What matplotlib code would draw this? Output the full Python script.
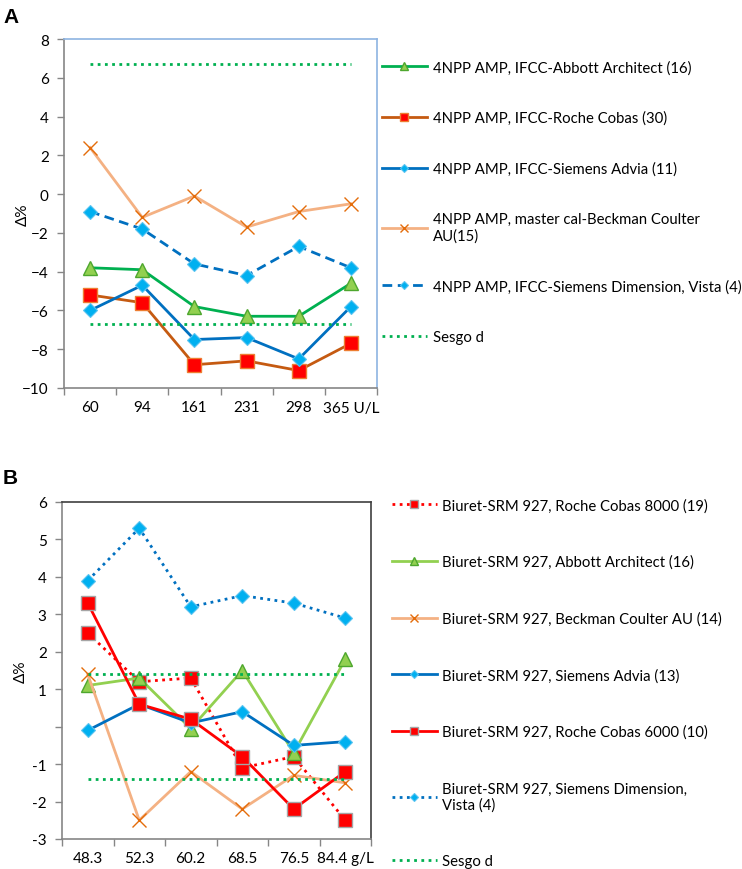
import matplotlib
matplotlib.use("Agg")
import matplotlib.pyplot as plt

plt.rcParams['font.family'] = ['Lato', 'DejaVu Sans']

# ---- panel A data (Delta %, by catalytic concentration) ----
cats_a = ["60", "94", "161", "231", "298", "365 U/L"]
abbott_a = [-3.8, -3.9, -5.8, -6.3, -6.3, -4.6]
roche_a = [-5.2, -5.6, -8.8, -8.6, -9.1, -7.7]
advia_a = [-6.0, -4.7, -7.5, -7.4, -8.5, -5.8]
beckman_a = [2.4, -1.2, -0.1, -1.7, -0.9, -0.5]
dimension_a = [-0.9, -1.8, -3.6, -4.2, -2.7, -3.8]
sesgo_a = 6.7

# ---- panel B data (Delta %, by protein concentration) ----
cats_b = ["48.3", "52.3", "60.2", "68.5", "76.5", "84.4 g/L"]
roche8000_b = [2.5, 1.2, 1.3, -1.1, -0.8, -2.5]
abbott_b = [1.1, 1.3, -0.05, 1.5, -0.7, 1.8]
beckman_b = [1.4, -2.5, -1.2, -2.2, -1.3, -1.5]
advia_b = [-0.1, 0.6, 0.1, 0.4, -0.5, -0.4]
roche6000_b = [3.3, 0.6, 0.2, -0.8, -2.2, -1.2]
dimension_b = [3.9, 5.3, 3.2, 3.5, 3.3, 2.9]
sesgo_b = 1.4

GREEN = '#00B050'
LGREEN = '#92D050'
BLUE = '#0070C0'
CYAN = '#00B0F0'
BROWN = '#C55A11'
PEACH = '#F4B183'
XORANGE = '#E46C0A'
RED = '#FF0000'
GRAY = '#868686'
DOT = (0, (1, 1.6))
FS = 10.7

fig = plt.figure(figsize=(7.42, 8.70), dpi=100)
axA = fig.add_axes([64/742, 1-389/870, 313/742, 349/870])
axB = fig.add_axes([62/742, 1-840/870, 309/742, 337/870])


def style_axes(ax, cats, frame_col):
    n = len(cats)
    x = list(range(n))
    ax.set_xlim(-0.5, n - 0.5)
    ax.set_xticks(x)
    ax.set_xticklabels(cats, fontsize=11)
    ax.set_xticks([i - 0.5 for i in range(n + 1)], minor=True)
    ax.tick_params(axis='x', which='major', length=0, pad=9)
    ax.tick_params(axis='x', which='minor', length=5, color=GRAY, width=1)
    ax.tick_params(axis='y', length=5, color=GRAY, width=1, labelsize=11, pad=6)
    for s in ['left', 'bottom']:
        ax.spines[s].set_color(GRAY)
        ax.spines[s].set_linewidth(1.2)
    for s in ['top', 'right']:
        ax.spines[s].set_color(frame_col)
        ax.spines[s].set_linewidth(1.2)
    ax.set_ylabel('Δ%', fontsize=11)
    ax.yaxis.set_label_coords(-0.11, 0.5)
    return x


# ---------------- Panel A ----------------
x = style_axes(axA, cats_a, '#8DB4E2')
axA.set_ylim(-10, 8)
axA.set_yticks(range(-10, 9, 2))

axA.plot(x, abbott_a, color=GREEN, lw=2, marker='^', ms=10, mfc=LGREEN, mec='#4EA72E', mew=1,
         label='4NPP AMP, IFCC-Abbott Architect (16)')
axA.plot(x, roche_a, color=BROWN, lw=2, marker='s', ms=9.5, mfc=RED, mec='#ED7D31', mew=1,
         label='4NPP AMP, IFCC-Roche Cobas (30)')
axA.plot(x, advia_a, color=BLUE, lw=2, marker='D', ms=7.5, mfc=CYAN, mec='#5BC4F0', mew=0.8,
         label='4NPP AMP, IFCC-Siemens Advia (11)')
axA.plot(x, beckman_a, color=PEACH, lw=2, marker='x', ms=10, mec=XORANGE, mew=1,
         label='4NPP AMP, master cal-Beckman Coulter\nAU(15)')
axA.plot(x, dimension_a, color=BLUE, lw=2, ls=(0, (3.5, 2)), marker='D', ms=7.5, mfc=CYAN,
         mec='#5BC4F0', mew=0.8, label='4NPP AMP, IFCC-Siemens Dimension, Vista (4)')
axA.plot([x[0], x[-1]], [sesgo_a, sesgo_a], color=GREEN, lw=2, ls=DOT, label='Sesgo d')
axA.plot([x[0], x[-1]], [-sesgo_a, -sesgo_a], color=GREEN, lw=2, ls=DOT)

hA, lA = axA.get_legend_handles_labels()
fig.legend(hA, lA, loc='upper left', bbox_to_anchor=(382/742, 1-61/870), frameon=False,
           fontsize=FS, handlelength=3.0, handletextpad=0.4, labelspacing=2.45,
           markerscale=0.6, borderpad=0, borderaxespad=0)

# ---------------- Panel B ----------------
x = style_axes(axB, cats_b, '#404040')
axB.set_ylim(-3, 6)
axB.set_yticks(range(-3, 7))
axB.set_yticklabels(['-3', '-2', '-1', '', '1', '2', '3', '4', '5', '6'])

sq_edge = '#A5A5A5'
axB.plot(x, roche8000_b, color=RED, lw=2, ls=DOT, marker='s', ms=10, mfc=RED, mec=sq_edge, mew=1,
         label='Biuret-SRM 927, Roche Cobas 8000 (19)')
axB.plot(x, abbott_b, color=LGREEN, lw=2, marker='^', ms=10, mfc=LGREEN, mec='#4EA72E', mew=1,
         label='Biuret-SRM 927, Abbott Architect (16)')
axB.plot(x, beckman_b, color=PEACH, lw=2, marker='x', ms=10, mec=XORANGE, mew=1,
         label='Biuret-SRM 927, Beckman Coulter AU (14)')
axB.plot(x, advia_b, color=BLUE, lw=2, marker='D', ms=7.5, mfc=CYAN, mec='#5BC4F0', mew=0.8,
         label='Biuret-SRM 927, Siemens Advia (13)')
axB.plot(x, roche6000_b, color=RED, lw=2, marker='s', ms=10, mfc=RED, mec=sq_edge, mew=1,
         label='Biuret-SRM 927, Roche Cobas 6000 (10)')
axB.plot(x, dimension_b, color=BLUE, lw=2, ls=DOT, marker='D', ms=7.5, mfc=CYAN, mec='#5BC4F0',
         mew=0.8, label='Biuret-SRM 927, Siemens Dimension,\nVista (4)')
axB.plot([x[0], x[-1]], [sesgo_b, sesgo_b], color=GREEN, lw=2, ls=DOT, label='Sesgo d')
axB.plot([x[0], x[-1]], [-sesgo_b, -sesgo_b], color=GREEN, lw=2, ls=DOT)

hB, lB = axB.get_legend_handles_labels()
fig.legend(hB, lB, loc='upper left', bbox_to_anchor=(392/742, 1-499/870), frameon=False,
           fontsize=FS, handlelength=3.0, handletextpad=0.35, labelspacing=2.85,
           markerscale=0.6, borderpad=0, borderaxespad=0)

fig.text(3/742, 1-23/870, 'A', fontsize=15, fontweight='bold', family='Liberation Sans')
fig.text(3/742, 1-484/870, 'B', fontsize=15, fontweight='bold', family='Liberation Sans')

fig.savefig('out.png', dpi=100)
